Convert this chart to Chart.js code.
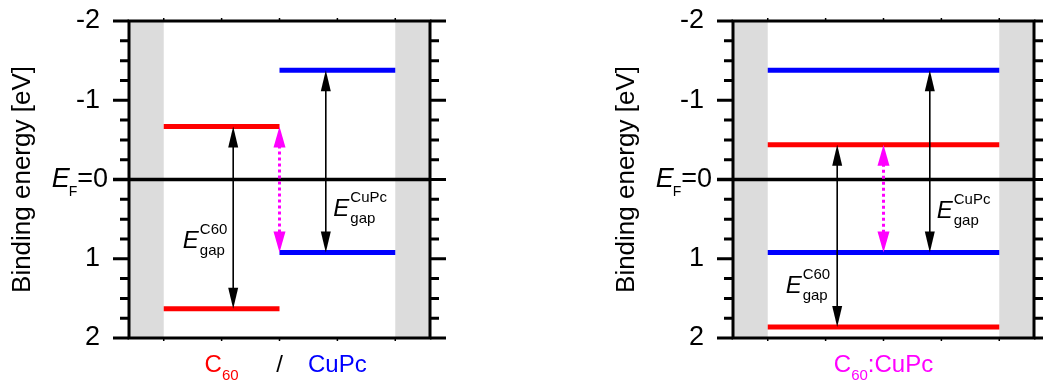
<!DOCTYPE html>
<html><head><meta charset="utf-8">
<script src="https://cdn.jsdelivr.net/npm/chart.js@4.4.1/dist/chart.umd.min.js"></script>
<style>
html,body{margin:0;padding:0;background:#fff;overflow:hidden}
#wrap{position:relative;width:1043px;height:381px;overflow:hidden}
canvas{position:absolute;top:0}
#c1{left:0}
#c2{left:604px}
</style></head><body>
<div id="wrap"><canvas id="c1" width="520" height="381"></canvas><canvas id="c2" width="439" height="381"></canvas></div>
<script>
const FONT = "'Liberation Sans', Arial, sans-serif";

// ---- shared axes ----
const xMin = -0.6, xMax = 4.6;
const yMin = -2, yMax = 2;
const yMajorStep = 1, yMinorStep = 0.25;
const xTickValues = [0, 1, 2, 3, 4];
const grayBandStart = [-0.6, 4];
const grayBandEnd = [0, 4.6];
const yAxisTitle = 'Binding energy [eV]';

// ---- panel 1: C60 / CuPc ----
const p1LevelY = [-0.67, 1.63, -1.38, 0.92];
const p1LevelX0 = [0, 0, 2, 2];
const p1LevelX1 = [2, 2, 4, 4];
const p1LevelMaterial = ['C60', 'C60', 'CuPc', 'CuPc'];
const p1ArrowX = [1.2, 2.0, 2.8];
const p1ArrowY0 = [-0.67, -0.67, -1.38];
const p1ArrowY1 = [1.63, 0.92, 0.92];
const p1ArrowKind = ['gap', 'transfer', 'gap'];
const p1GapName = ['C60', 'CuPc'];
const p1GapX = [0.33, 2.93];
const p1GapY = [0.86, 0.46];
const p1CatX = [1, 2, 3];
const p1CatParts = [[['C', 0], ['60', 1]], [['/', 0]], [['CuPc', 0]]];
const p1CatMaterial = ['C60', 'sep', 'CuPc'];

// ---- panel 2: C60:CuPc ----
const p2LevelY = [-1.38, -0.44, 0.92, 1.86];
const p2LevelX0 = [0, 0, 0, 0];
const p2LevelX1 = [4, 4, 4, 4];
const p2LevelMaterial = ['CuPc', 'C60', 'CuPc', 'C60'];
const p2ArrowX = [1.2, 2.0, 2.8];
const p2ArrowY0 = [-0.44, -0.44, -1.38];
const p2ArrowY1 = [1.86, 0.92, 0.92];
const p2ArrowKind = ['gap', 'transfer', 'gap'];
const p2GapName = ['C60', 'CuPc'];
const p2GapX = [0.31, 2.92];
const p2GapY = [1.43, 0.48];
const p2CatX = [2];
const p2CatParts = [[['C', 0], ['60', 1], [':CuPc', 0]]];
const p2CatMaterial = ['blend'];

const COLORS = { C60: '#ff0000', CuPc: '#0000ff', sep: '#000000', blend: '#ff00ff' };
const TICK_SIZE = 27;

function drawArrowHead(ctx, x, tipY, dir, hl, hw) {
  ctx.beginPath();
  ctx.moveTo(x, tipY);
  ctx.lineTo(x - hw, tipY - dir * hl);
  ctx.lineTo(x + hw, tipY - dir * hl);
  ctx.closePath();
  ctx.fill();
}

function drawRich(ctx, parts, cx, baseY, color, big, small, subDy) {
  ctx.fillStyle = color;
  ctx.textAlign = 'left';
  ctx.textBaseline = 'alphabetic';
  let total = 0;
  const widths = parts.map(p => { ctx.font = (p[1] ? small : big) + 'px ' + FONT; const w = ctx.measureText(p[0]).width; total += w; return w; });
  let x = cx - total / 2;
  parts.forEach((p, i) => {
    ctx.font = (p[1] ? small : big) + 'px ' + FONT;
    ctx.fillText(p[0], x, baseY + (p[1] ? subDy : 0));
    x += widths[i];
  });
}

const energyPlugin = {
  id: 'energy',
  beforeDatasetsDraw(chart, args, o) {
    const { ctx, chartArea: a, scales: { x, y } } = chart;
    ctx.save();
    ctx.fillStyle = '#dcdcdc';
    for (let i = 0; i < grayBandStart.length; i++) {
      const x0 = x.getPixelForValue(grayBandStart[i]);
      const x1 = x.getPixelForValue(grayBandEnd[i]);
      ctx.fillRect(Math.min(x0, x1), a.top, Math.abs(x1 - x0), a.bottom - a.top);
    }
    const y0 = y.getPixelForValue(0);
    ctx.strokeStyle = '#000';
    ctx.lineWidth = 3.5;
    ctx.beginPath();
    ctx.moveTo(a.left - 16, y0);
    ctx.lineTo(a.right, y0);
    ctx.stroke();
    ctx.restore();
  },
  afterDatasetsDraw(chart, args, o) {
    const { ctx, chartArea: a, scales: { x, y } } = chart;
    ctx.save();
    for (let i = 0; i < o.arrowX.length; i++) {
      const px = x.getPixelForValue(o.arrowX[i]);
      const ya = y.getPixelForValue(o.arrowY0[i]);
      const yb = y.getPixelForValue(o.arrowY1[i]);
      const dir = yb > ya ? 1 : -1;
      const transfer = o.arrowKind[i] === 'transfer';
      const col = transfer ? COLORS.blend : '#000';
      const hl = 21, hw = transfer ? 6 : 5;
      ctx.strokeStyle = col; ctx.fillStyle = col;
      ctx.lineWidth = transfer ? 3 : 1.6;
      ctx.setLineDash(transfer ? [3, 3] : []);
      ctx.beginPath();
      ctx.moveTo(px, ya + dir * (hl - 2));
      ctx.lineTo(px, yb - dir * (hl - 2));
      ctx.stroke();
      ctx.setLineDash([]);
      drawArrowHead(ctx, px, ya, -dir, hl, hw);
      drawArrowHead(ctx, px, yb, dir, hl, hw);
    }
    ctx.fillStyle = '#000';
    ctx.textBaseline = 'alphabetic';
    ctx.textAlign = 'left';
    for (let i = 0; i < o.gapName.length; i++) {
      const px = x.getPixelForValue(o.gapX[i]);
      const py = y.getPixelForValue(o.gapY[i]);
      ctx.font = 'italic 24px ' + FONT;
      ctx.fillText('E', px, py);
      const w = ctx.measureText('E').width;
      ctx.font = '15px ' + FONT;
      ctx.fillText(o.gapName[i], px + w + 1, py - 14);
      ctx.fillText('gap', px + w + 1, py + 7);
    }
    ctx.strokeStyle = '#000';
    ctx.lineWidth = 3;
    ctx.strokeRect(a.left, a.top, a.right - a.left, a.bottom - a.top);
    for (let v = yMin; v <= yMax + 1e-9; v += yMinorStep) {
      const major = Math.abs(v / yMajorStep - Math.round(v / yMajorStep)) < 1e-6;
      const len = major ? 16 : 9;
      const py = y.getPixelForValue(v);
      ctx.beginPath();
      ctx.moveTo(a.left - len, py); ctx.lineTo(a.left, py);
      ctx.moveTo(a.right, py); ctx.lineTo(a.right + len, py);
      ctx.stroke();
    }
    ctx.lineWidth = 1.5;
    xTickValues.forEach(v => {
      const px = x.getPixelForValue(v);
      ctx.beginPath();
      ctx.moveTo(px, a.top); ctx.lineTo(px, a.top - 3);
      ctx.moveTo(px, a.bottom); ctx.lineTo(px, a.bottom + 3);
      ctx.stroke();
    });
    const y0 = y.getPixelForValue(0);
    const right = a.left - 21;
    ctx.textAlign = 'left';
    ctx.font = TICK_SIZE + 'px ' + FONT;
    const w1 = ctx.measureText('=0').width;
    ctx.font = '14px ' + FONT;
    const wF = ctx.measureText('F').width;
    ctx.font = 'italic ' + TICK_SIZE + 'px ' + FONT;
    const wE = ctx.measureText('E').width;
    ctx.fillStyle = '#000';
    ctx.textBaseline = 'middle';
    ctx.fillText('E', right - w1 - wF - wE + 1, y0);
    ctx.font = '14px ' + FONT;
    ctx.textBaseline = 'alphabetic';
    ctx.fillText('F', right - w1 - wF, y0 + 16);
    ctx.font = TICK_SIZE + 'px ' + FONT;
    ctx.textBaseline = 'middle';
    ctx.fillText('=0', right - w1, y0);
    for (let i = 0; i < o.catX.length; i++) {
      drawRich(ctx, o.catParts[i], x.getPixelForValue(o.catX[i]), a.bottom + 34, COLORS[o.catMaterial[i]], 24, 15, 8);
    }
    ctx.restore();
  }
};

function makeChart(id, canvasWidth, P) {
  const datasets = P.levelY.map((e, i) => ({
    label: P.levelMaterial[i],
    data: [{ x: P.levelX0[i], y: e }, { x: P.levelX1[i], y: e }],
    borderColor: COLORS[P.levelMaterial[i]],
    backgroundColor: COLORS[P.levelMaterial[i]],
    borderWidth: 5,
    pointRadius: 0,
    showLine: true,
    fill: false
  }));
  return new Chart(document.getElementById(id), {
    type: 'scatter',
    data: { datasets },
    options: {
      responsive: false,
      animation: false,
      devicePixelRatio: 1,
      layout: { padding: { left: 0, top: 21, right: canvasWidth - 430, bottom: 43 } },
      plugins: {
        legend: { display: false },
        tooltip: { enabled: false },
        energy: P
      },
      scales: {
        x: { type: 'linear', min: xMin, max: xMax, display: false },
        y: {
          type: 'linear', min: yMin, max: yMax, reverse: true, position: 'left',
          afterFit(s) { s.width = 129; s.paddingTop = 0; s.paddingBottom = 0; },
          grid: { display: false },
          border: { display: false },
          ticks: {
            stepSize: yMajorStep, padding: 21, color: '#000',
            font: { family: FONT, size: TICK_SIZE },
            callback: v => (v === 0 ? '' : String(v))
          },
          title: {
            display: true, text: yAxisTitle, color: '#000',
            font: { family: FONT, size: 26 }, padding: { top: 7, bottom: 0 }
          }
        }
      }
    },
    plugins: [energyPlugin]
  });
}

makeChart('c1', 520, {
  levelY: p1LevelY, levelX0: p1LevelX0, levelX1: p1LevelX1, levelMaterial: p1LevelMaterial,
  arrowX: p1ArrowX, arrowY0: p1ArrowY0, arrowY1: p1ArrowY1, arrowKind: p1ArrowKind,
  gapName: p1GapName, gapX: p1GapX, gapY: p1GapY,
  catX: p1CatX, catParts: p1CatParts, catMaterial: p1CatMaterial
});
makeChart('c2', 439, {
  levelY: p2LevelY, levelX0: p2LevelX0, levelX1: p2LevelX1, levelMaterial: p2LevelMaterial,
  arrowX: p2ArrowX, arrowY0: p2ArrowY0, arrowY1: p2ArrowY1, arrowKind: p2ArrowKind,
  gapName: p2GapName, gapX: p2GapX, gapY: p2GapY,
  catX: p2CatX, catParts: p2CatParts, catMaterial: p2CatMaterial
});
</script>
</body></html>
